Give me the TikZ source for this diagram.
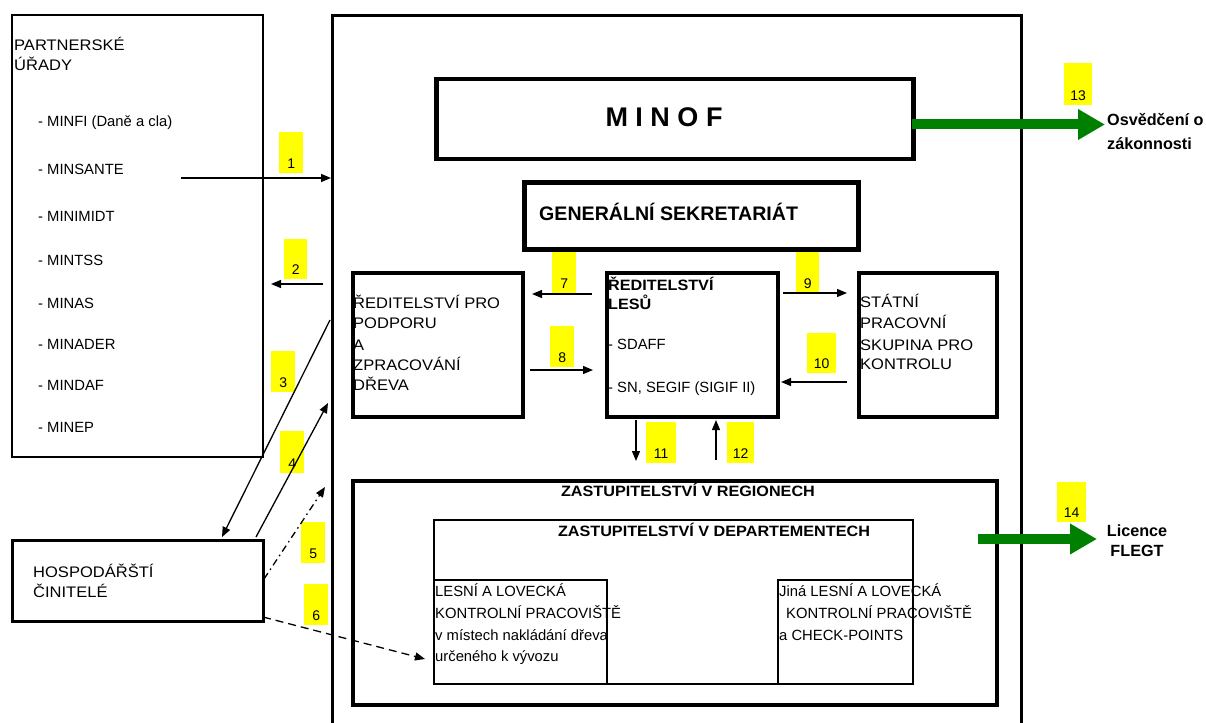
\documentclass[tikz,border=0pt]{standalone}
\usepackage{fontspec}
\setmainfont{Liberation Sans}
\newfontfamily\widefont[FakeStretch=1.08]{Liberation Sans}
\usetikzlibrary{arrows.meta}
\definecolor{labyellow}{HTML}{FFFF00}
\definecolor{fgreen}{HTML}{008000}
\newcommand\myfs[1]{\fontsize{#1}{#1}\selectfont}
\newcommand\ylab[6]{\node[lab, minimum width=#3pt, minimum height=#4pt] (#5) at (#1,#2) {};
  \node[num] (#5n) at ([yshift=5pt]#5.south) {#6};}
\begin{document}
\begin{tikzpicture}[x=1pt,y=-1pt,
  box/.style={draw, inner sep=0pt, anchor=north west},
  lab/.style={fill=labyellow, inner sep=0pt, anchor=north west},
  num/.style={inner sep=0pt, anchor=base, font=\myfs{14}},
  tx/.style={inner sep=0pt, anchor=base west, font=\widefont\myfs{15.3}},
  tw/.style={inner sep=0pt, anchor=base west, font=\widefont\bfseries\myfs{15}},
  tl/.style={inner sep=0pt, anchor=base west, font=\myfs{14.8}},
  tb/.style={inner sep=0pt, anchor=base west, font=\bfseries\myfs{16.2}},
  arr/.style={line width=1.3pt, -{Triangle[length=10pt,width=8pt]}},
  garr/.style={line width=10pt, draw=fgreen, -{Triangle[length=27pt,width=29pt]}}]
\useasboundingbox (0,0) rectangle (1206,722);

% boxes
\node[box, line width=2pt, minimum width=251pt, minimum height=442pt] (partner) at (11,14) {};
\node[box, line width=3pt, minimum width=689pt, minimum height=740pt] (outer) at (331,14) {};
\node[box, line width=4.5pt, minimum width=477pt, minimum height=80pt] (minof) at (434,77) {};
\node[box, line width=4.5pt, minimum width=334pt, minimum height=67pt] (gen) at (522,180) {};
\node[box, line width=3.5pt, minimum width=170pt, minimum height=144pt] (rpp) at (351,271) {};
\node[box, line width=3.5pt, minimum width=171pt, minimum height=144pt] (rl) at (605,271) {};
\node[box, line width=3.5pt, minimum width=138pt, minimum height=144pt] (stat) at (857,271) {};
\node[box, line width=3.5pt, minimum width=644pt, minimum height=224pt] (regions) at (351,479) {};
\node[box, line width=2pt, minimum width=479pt, minimum height=164pt] (dept) at (433,519) {};
\node[box, line width=2pt, minimum width=173pt, minimum height=104pt] (lesni) at (433,579) {};
\node[box, line width=2pt, minimum width=135pt, minimum height=104pt] (jina) at (777,579) {};
\node[box, line width=2.5pt, minimum width=251pt, minimum height=81pt] (hosp) at (11,539) {};

% yellow labels
\ylab{279}{132}{24}{41}{l1}{1}
\ylab{284}{239}{23}{40}{l2}{2}
\ylab{271}{351}{24}{41}{l3}{3}
\ylab{280}{431}{24}{42}{l4}{4}
\ylab{301}{522}{24}{41}{l5}{5}
\ylab{304}{584}{24}{41}{l6}{6}
\ylab{552}{252}{24}{41}{l7}{7}
\ylab{550}{326}{24}{41}{l8}{8}
\ylab{796}{252}{23}{41}{l9}{9}
\ylab{807}{333}{29}{40}{l10}{10}
\ylab{646}{422}{30}{41}{l11}{11}
\ylab{727}{422}{27}{41}{l12}{12}
\ylab{1064}{63}{28}{42}{l13}{13}
\ylab{1057}{482}{29}{40}{l14}{14}

% texts
\node[tx] (pt1) at (14,51) {PARTNERSKÉ};
\node[tx] (pt2) at (14,71) {ÚŘADY};
\node[tl] (m1) at (38,127) {- MINFI (Daně a cla)};
\node[tl] (m2) at (38,175) {- MINSANTE};
\node[tl] (m3) at (38,221) {- MINIMIDT};
\node[tl] (m4) at (38,265) {- MINTSS};
\node[tl] (m5) at (38,308) {- MINAS};
\node[tl] (m6) at (38,349) {- MINADER};
\node[tl] (m7) at (38,390) {- MINDAF};
\node[tl] (m8) at (38,432) {- MINEP};

\node[inner sep=0pt, anchor=base, font=\bfseries\myfs{27}] (minoft) at (664,127) {M I N O F};
\node[inner sep=0pt, anchor=base west, font=\bfseries\myfs{19.6}] (gent) at (539,220) {GENERÁLNÍ SEKRETARIÁT};

\node[tx] (r1) at (353,308) {ŘEDITELSTVÍ PRO};
\node[tx] (r2) at (353,328) {PODPORU};
\node[tx] (r3) at (353,350) {A};
\node[tx] (r4) at (353,370) {ZPRACOVÁNÍ};
\node[tx] (r5) at (353,390) {DŘEVA};

\node[tw] (rl1) at (608,290) {ŘEDITELSTVÍ};
\node[tw] (rl2) at (608,309) {LESŮ};
\node[tl] (rl3) at (608,349) {- SDAFF};
\node[tl] (rl4) at (608,392) {- SN, SEGIF (SIGIF II)};

\node[tx] (s1) at (860,307) {STÁTNÍ};
\node[tx] (s2) at (860,328) {PRACOVNÍ};
\node[tx] (s3) at (860,350) {SKUPINA PRO};
\node[tx] (s4) at (860,369) {KONTROLU};

\node[tw, anchor=base] (regt) at (688,496) {ZASTUPITELSTVÍ V REGIONECH};
\node[tw, anchor=base] (deptt) at (714,536) {ZASTUPITELSTVÍ V DEPARTEMENTECH};

\node[tl] (le1) at (435,596) {LESNÍ A LOVECKÁ};
\node[tl] (le2) at (435,618) {KONTROLNÍ PRACOVIŠTĚ};
\node[tl] (le3) at (435,640) {v místech nakládání dřeva};
\node[tl] (le4) at (435,661) {určeného k vývozu};

\node[tl] (j1) at (779,596) {Jiná LESNÍ A LOVECKÁ};
\node[tl] (j2) at (786,618) {KONTROLNÍ PRACOVIŠTĚ};
\node[tl] (j3) at (779,640) {a CHECK-POINTS};

\node[tx] (h1) at (33,577) {HOSPODÁŘŠTÍ};
\node[tx] (h2) at (33,597) {ČINITELÉ};

\node[tb] (o1) at (1107,126) {Osvědčení o};
\node[tb] (o2) at (1107,150) {zákonnosti};
\node[tb, anchor=base] (f1) at (1137,536) {Licence};
\node[tb, anchor=base] (f2) at (1137,556) {FLEGT};

% connectors
\coordinate (a1s) at (181,178);
\draw[arr] (a1s) -- (a1s -| outer.west);
\coordinate (a2s) at (323,284); \coordinate (a2e) at (271,284);
\draw[arr] (a2s) -- (a2e);
\coordinate (a3s) at (330,320); \coordinate (a3e) at (222,537);
\draw[arr] (a3s) -- (a3e);
\coordinate (a4s) at (256,537); \coordinate (a4e) at (328,403);
\draw[arr] (a4s) -- (a4e);
\coordinate (a5s) at (264,579); \coordinate (a5e) at (325,487);
\draw[arr, dash pattern=on 7pt off 4pt on 1.5pt off 4pt] (a5s) -- (a5e);
\coordinate (a6s) at (263,617); \coordinate (a6e) at (425,659);
\draw[arr, dash pattern=on 8pt off 5pt] (a6s) -- (a6e);
\coordinate (a7s) at (592,294); \coordinate (a7e) at (532,294);
\draw[arr] (a7s) -- (a7e);
\coordinate (a8s) at (530,370); \coordinate (a8e) at (593,370);
\draw[arr] (a8s) -- (a8e);
\coordinate (a9s) at (783,293); \coordinate (a9e) at (847,293);
\draw[arr] (a9s) -- (a9e);
\coordinate (a10s) at (847,382); \coordinate (a10e) at (781,382);
\draw[arr] (a10s) -- (a10e);
\coordinate (a11s) at (636,420); \coordinate (a11e) at (636,461);
\draw[arr] (a11s) -- (a11e);
\coordinate (a12s) at (716,460); \coordinate (a12e) at (716,420);
\draw[arr] (a12s) -- (a12e);

% green arrows
\coordinate (g13s) at (912,124.5); \coordinate (g13e) at (1105,124.5);
\draw[garr] (g13s) -- (g13e);
\coordinate (g14s) at (978,539); \coordinate (g14e) at (1097,539);
\draw[garr] (g14s) -- (g14e);
\end{tikzpicture}
\end{document}
